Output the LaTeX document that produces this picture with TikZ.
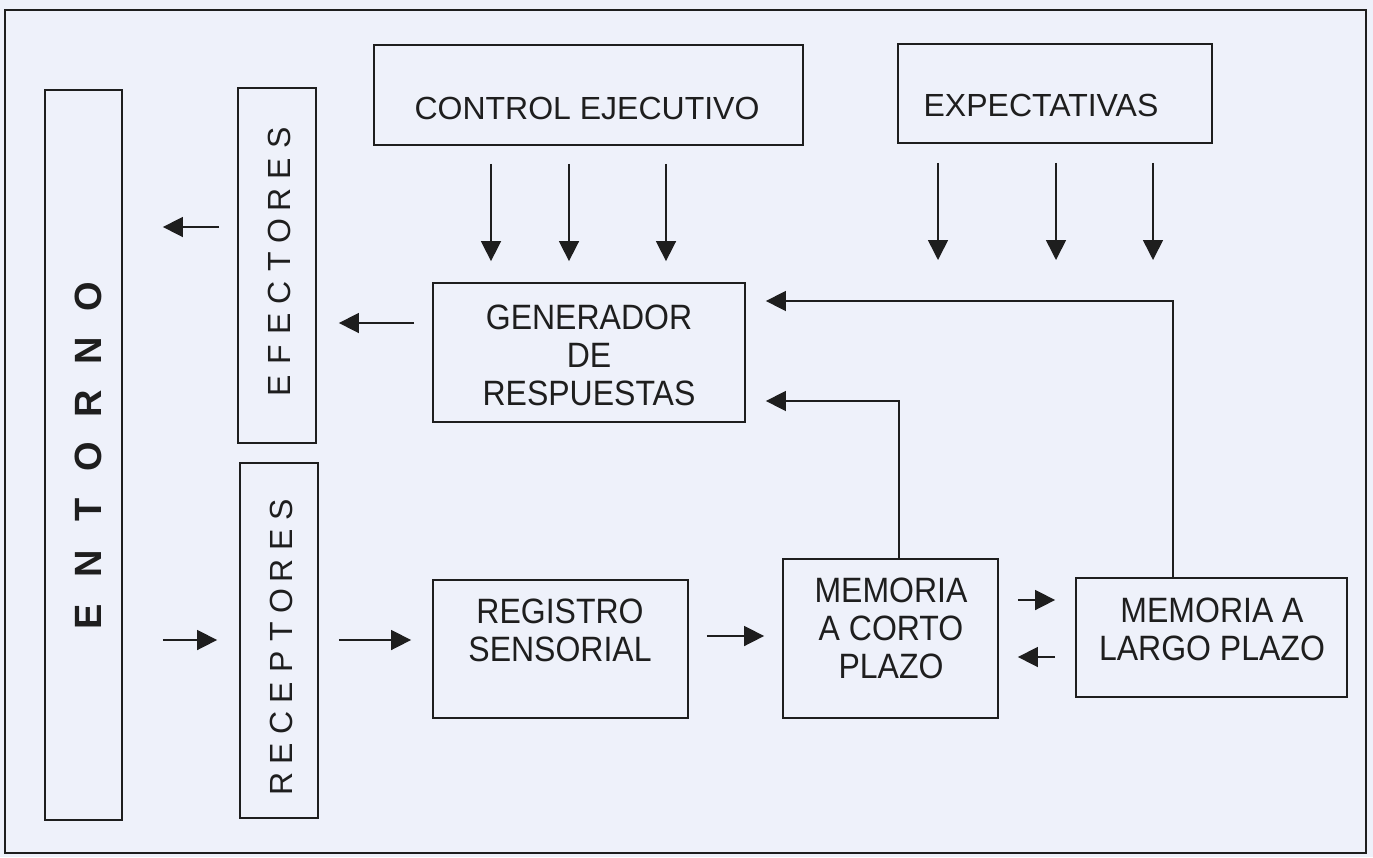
\documentclass[tikz,border=0pt]{standalone}
\usepackage{graphicx}
\usepackage{fontspec}
\setmainfont{Liberation Sans}
\usetikzlibrary{arrows.meta}
\definecolor{paper}{RGB}{238,241,250}
\definecolor{ink}{RGB}{30,30,30}
\newcommand\spacedltr[2]{\makebox[#1]{#2}}
\newcommand\tallline[1]{\scalebox{1}[1.1]{#1}}
\begin{document}
\begin{tikzpicture}[x=1pt,y=-1pt,
  box/.style={draw=ink,line width=1.8pt,fill=none,inner sep=0pt},
  lbl/.style={text=ink,font=\fontsize{32}{40}\selectfont,align=center,inner sep=0pt},
  arr/.style={draw=ink,line width=1.6pt,-{Triangle[length=20pt,width=20pt]}},
  ln/.style={draw=ink,line width=1.6pt}]
\fill[paper] (0,0) rectangle (1373,857);
\useasboundingbox (0,0) rectangle (1373,857);
\draw[ink,line width=1.8pt] (5,10) rectangle (1366,853);
% boxes
\node[box,minimum width=77pt,minimum height=730pt] (ent) at (83.5,455) {};
\node[box,minimum width=78pt,minimum height=355pt] (efe) at (277,265.5) {};
\node[box,minimum width=78pt,minimum height=355pt] (rec) at (279,640.5) {};
\node[box,minimum width=429pt,minimum height=100pt] (ctl) at (588.5,95) {};
\node[box,minimum width=314pt,minimum height=99pt] (exp) at (1055,93.5) {};
\node[box,minimum width=312pt,minimum height=139pt] (gen) at (589,352.5) {};
\node[box,minimum width=255pt,minimum height=138pt] (reg) at (560.5,649) {};
\node[box,minimum width=215pt,minimum height=159pt] (mcp) at (890.5,638.5) {};
\node[box,minimum width=271pt,minimum height=119pt] (mlp) at (1211.5,637.5) {};
% labels
\node[lbl,rotate=90,font=\fontsize{38}{40}\bfseries] (entT) at (88,457)
  {\spacedltr{53.3pt}{E}\spacedltr{53.3pt}{N}\spacedltr{53.3pt}{T}\spacedltr{53.3pt}{O}\spacedltr{53.3pt}{R}\spacedltr{53.3pt}{N}\spacedltr{53.3pt}{O}};
\node[lbl,rotate=90] (efeT) at (279,262)
  {\spacedltr{31pt}{E}\spacedltr{31pt}{F}\spacedltr{31pt}{E}\spacedltr{31pt}{C}\spacedltr{31pt}{T}\spacedltr{31pt}{O}\spacedltr{31pt}{R}\spacedltr{31pt}{E}\spacedltr{31pt}{S}};
\node[lbl,rotate=90] (recT) at (281,647)
  {\spacedltr{30.5pt}{R}\spacedltr{30.5pt}{E}\spacedltr{30.5pt}{C}\spacedltr{30.5pt}{E}\spacedltr{30.5pt}{P}\spacedltr{30.5pt}{T}\spacedltr{30.5pt}{O}\spacedltr{30.5pt}{R}\spacedltr{30.5pt}{E}\spacedltr{30.5pt}{S}};
\node[lbl] (ctlT) at (587,108) {CONTROL EJECUTIVO};
\node[lbl] (expT) at (1041,105) {EXPECTATIVAS};
\node[lbl,font=\fontsize{32}{38}\selectfont] (genT) at (589,355)
  {\tallline{GENERADOR}\\\tallline{DE}\\\tallline{RESPUESTAS}};
\node[lbl,font=\fontsize{32}{38}\selectfont] (regT) at (560,630)
  {\tallline{REGISTRO}\\\tallline{SENSORIAL}};
\node[lbl,font=\fontsize{32}{38}\selectfont] (mcpT) at (891,628)
  {\tallline{MEMORIA}\\\tallline{A CORTO}\\\tallline{PLAZO}};
\node[lbl,font=\fontsize{32}{38}\selectfont] (mlpT) at (1212,629)
  {\tallline{MEMORIA A}\\\tallline{LARGO PLAZO}};
% helper coordinates
\coordinate (ya) at (0,227);
\coordinate (yb) at (0,323);
\coordinate (yc) at (0,640);
\coordinate (yd) at (0,636);
\coordinate (ye) at (0,600);
\coordinate (yf) at (0,657);
\coordinate (yg) at (0,401);
\coordinate (yh) at (0,301);
\coordinate (xa) at (899,0);
\coordinate (xb) at (1173,0);
\coordinate (c1) at (491,0);
\coordinate (c2) at (569,0);
\coordinate (c3) at (666,0);
\coordinate (e1) at (938,260);
\coordinate (e2) at (1056,260);
\coordinate (e3) at (1153,260);
% connectors
\draw[arr,shorten <=18pt,shorten >=40pt] (efe.west |- ya) -- (ent.east |- ya);
\draw[arr,shorten <=18pt,shorten >=22pt] (gen.west |- yb) -- (efe.east |- yb);
\draw[arr,shorten <=40pt,shorten >=22pt] (ent.east |- yc) -- (rec.west |- yc);
\draw[arr,shorten <=20pt,shorten >=21pt] (rec.east |- yc) -- (reg.west |- yc);
\draw[arr,shorten <=18pt,shorten >=18pt] (reg.east |- yd) -- (mcp.west |- yd);
\draw[arr,shorten <=19pt,shorten >=20pt] (mcp.east |- ye) -- (mlp.west |- ye);
\draw[arr,shorten <=20pt,shorten >=19pt] (mlp.west |- yf) -- (mcp.east |- yf);
\draw[arr,shorten >=20pt] (mcp.north -| xa) |- (gen.east |- yg);
\draw[arr,shorten >=20pt] (mlp.north -| xb) |- (gen.east |- yh);
\draw[arr,shorten <=18pt,shorten >=21pt] (ctl.south -| c1) -- (gen.north -| c1);
\draw[arr,shorten <=18pt,shorten >=21pt] (ctl.south -| c2) -- (gen.north -| c2);
\draw[arr,shorten <=18pt,shorten >=21pt] (ctl.south -| c3) -- (gen.north -| c3);
\draw[arr,shorten <=19pt] (exp.south -| e1) -- (e1);
\draw[arr,shorten <=19pt] (exp.south -| e2) -- (e2);
\draw[arr,shorten <=19pt] (exp.south -| e3) -- (e3);
\end{tikzpicture}
\end{document}
